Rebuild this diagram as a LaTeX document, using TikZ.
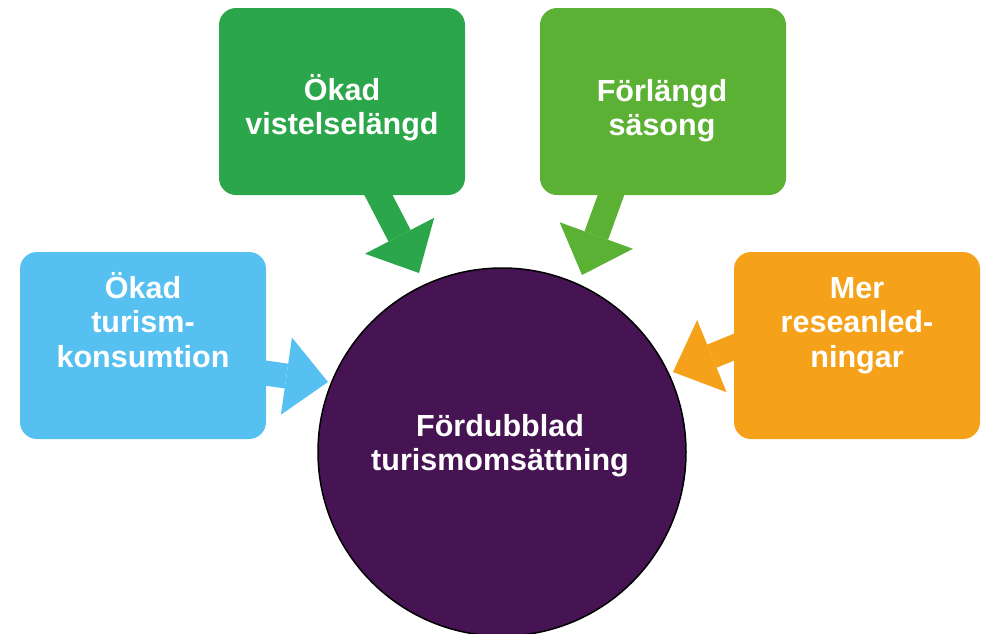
\documentclass[tikz,border=0pt]{standalone}
\usepackage{fontspec}
\setmainfont{Liberation Sans}
\usetikzlibrary{arrows.meta,backgrounds}
\definecolor{cblue}{HTML}{56C0F0}
\definecolor{cdgreen}{HTML}{2CA64A}
\definecolor{clgreen}{HTML}{5BB133}
\definecolor{corange}{HTML}{F5A11A}
\definecolor{cpurple}{HTML}{461452}
\tikzset{
  box/.style={rounded corners=17pt, minimum width=246pt, minimum height=187pt, inner sep=0pt, draw=none},
  lbl/.style={anchor=base, text=white, inner sep=0pt, font=\fontsize{30.5}{34.5}\selectfont\bfseries},
  blockarrow/.style={line width=25pt, -{Triangle[length=42pt,width=78pt,line width=0pt]}},
}
\newcommand{\mylines}[1]{\begin{tabular}[t]{@{}c@{}}#1\end{tabular}}
\begin{document}
\begin{tikzpicture}[x=1pt,y=-1pt]
\useasboundingbox (0,0) rectangle (986,633);
% boxes
\node[box, fill=cblue]   (b1) at (143,345.5) {};
\node[box, fill=cdgreen] (b2) at (342,101.5) {};
\node[box, fill=clgreen] (b3) at (663,101.5) {};
\node[box, fill=corange] (b4) at (857,345.5) {};
\node[circle, draw=black, line width=1.5pt, fill=cpurple, minimum size=368pt, inner sep=0pt] (c) at (502,452) {};
% labels
\node[lbl] (t1) at (143,298) {\mylines{Ökad\\turism-\\konsumtion}};
\node[lbl] (t2) at (342,100) {\mylines{Ökad\\vistelselängd}};
\node[lbl] (t3) at (662,101) {\mylines{Förlängd\\säsong}};
\node[lbl] (t4) at (857,298) {\mylines{Mer\\reseanled-\\ningar}};
\node[lbl] (t5) at (500,436) {\mylines{Fördubblad\\turismomsättning}};
% arrow end points
\coordinate (s1) at (202,364);   \coordinate (e1) at (328,382);
\coordinate (s2) at (362,163.5); \coordinate (e2) at (419,273);
\coordinate (s3) at (625.5,155); \coordinate (e3) at (582,275);
\coordinate (s4) at (787,325.5); \coordinate (e4) at (673,372);
\begin{scope}[on background layer]
\draw[blockarrow, draw=cblue, fill=cblue] (s1) -- (e1);
\draw[blockarrow, draw=cdgreen, fill=cdgreen] (s2) -- (e2);
\draw[blockarrow, draw=clgreen, fill=clgreen] (s3) -- (e3);
\draw[blockarrow, draw=corange, fill=corange] (s4) -- (e4);
\end{scope}
\end{tikzpicture}
\end{document}
